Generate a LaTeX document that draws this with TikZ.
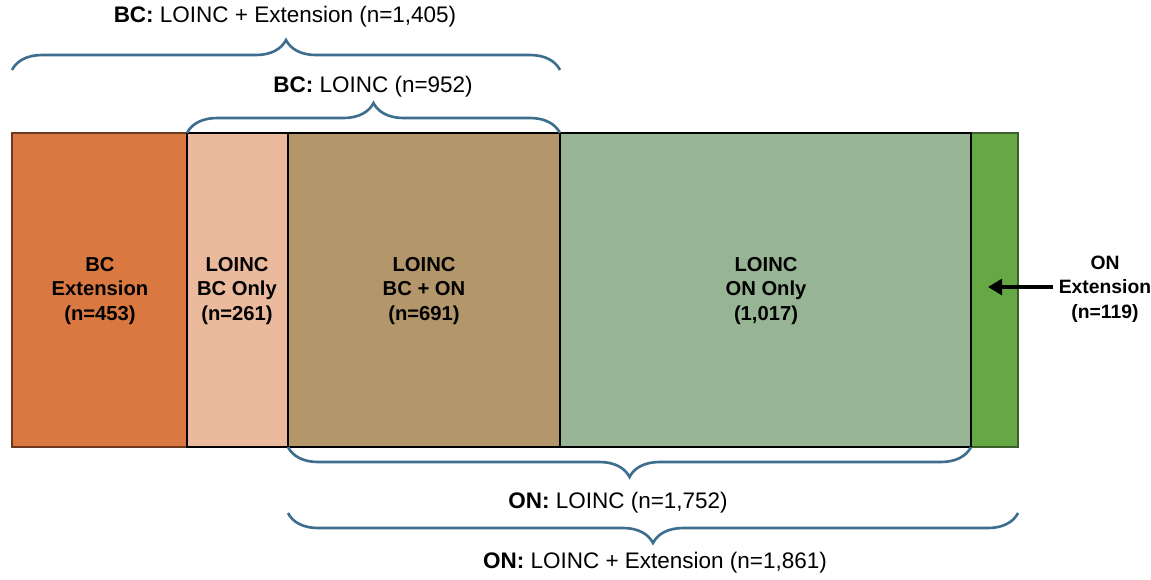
\documentclass[tikz,border=0pt]{standalone}
\usepackage{fontspec}
\setmainfont{Liberation Sans}
\usetikzlibrary{decorations.pathreplacing, arrows.meta}
\definecolor{bcext}{HTML}{D97941}
\definecolor{bcextline}{HTML}{6B3A1E}
\definecolor{bconly}{HTML}{EBB99C}
\definecolor{bcon}{HTML}{B39669}
\definecolor{ononly}{HTML}{97B494}
\definecolor{onext}{HTML}{65A844}
\definecolor{onextline}{HTML}{3B5E2A}
\definecolor{bracecol}{HTML}{3D6E8E}

\begin{document}
\begin{tikzpicture}[x=0.02cm, y=-0.02cm,
    part/.style={draw=black, line width=1.5pt},
    partlbl/.style={font=\bfseries\fontsize{11.5}{14}\selectfont, align=center},
    brc/.style={draw=bracecol, line width=1.5pt, decorate,
        decoration={brace, amplitude=0.6cm}},
    brclbl/.style={font=\fontsize{12.8}{15}\selectfont}]
        \useasboundingbox (0,0) rectangle (1151,579);

        % column edges
        \coordinate (T0) at (12,133);
        \coordinate (T1) at (187,133);
        \coordinate (T2) at (288,133);
        \coordinate (T3) at (560,133);
        \coordinate (T4) at (971,133);
        \coordinate (T5) at (1018,133);
        \coordinate (B0) at (12,447);
        \coordinate (B1) at (187,447);
        \coordinate (B2) at (288,447);
        \coordinate (B3) at (560,447);
        \coordinate (B4) at (971,447);
        \coordinate (B5) at (1018,447);

        \fill[bcext] (T0) rectangle (B1);
        \fill[bconly] (T1) rectangle (B2);
        \fill[bcon] (T2) rectangle (B3);
        \fill[ononly] (T3) rectangle (B4);
        \fill[onext] (T4) rectangle (B5);

        \draw[draw=bcextline, line width=1.5pt] (T0) rectangle (B1);
        \draw[draw=onextline, line width=1.5pt] (T4) rectangle (B5);
        \draw[part] (T1) rectangle (B2);
        \draw[part] (T2) rectangle (B3);
        \draw[part] (T3) rectangle (B4);

        \node[partlbl] (bcx) at (100,291) {BC\\Extension\\(n=453)};
        \node[partlbl] (bco) at (237,291) {LOINC\\BC Only\\(n=261)};
        \node[partlbl] (both) at (424,291) {LOINC\\BC + ON\\(n=691)};
        \node[partlbl] (ono) at (766,291) {LOINC\\ON Only\\(1,017)};
        \node[partlbl, font=\bfseries\fontsize{11}{14}\selectfont] (onx) at (1105,289) {ON\\Extension\\(n=119)};

        \coordinate (tip) at (988,287);
        \draw[line width=2pt, -{Triangle[length=8pt, width=9pt]}] (onx.west |- tip) -- (tip);

        % braces
        \draw[brc] (12,70) -- (560,70);
        \draw[brc] (T1) -- (T3);
        \draw[brc] (B4) -- (B2);
        \draw[brc] (1018,513) -- (288,513);

        \node[brclbl] (bcall) at (285,17) {\textbf{BC:} LOINC + Extension (n=1,405)};
        \node[brclbl] (bcl) at (373,87) {\textbf{BC:} LOINC (n=952)};
        \node[brclbl] (onl) at (618,503) {\textbf{ON:} LOINC (n=1,752)};
        \node[brclbl] (onall) at (655,563) {\textbf{ON:} LOINC + Extension (n=1,861)};
    \end{tikzpicture}
\end{document}
